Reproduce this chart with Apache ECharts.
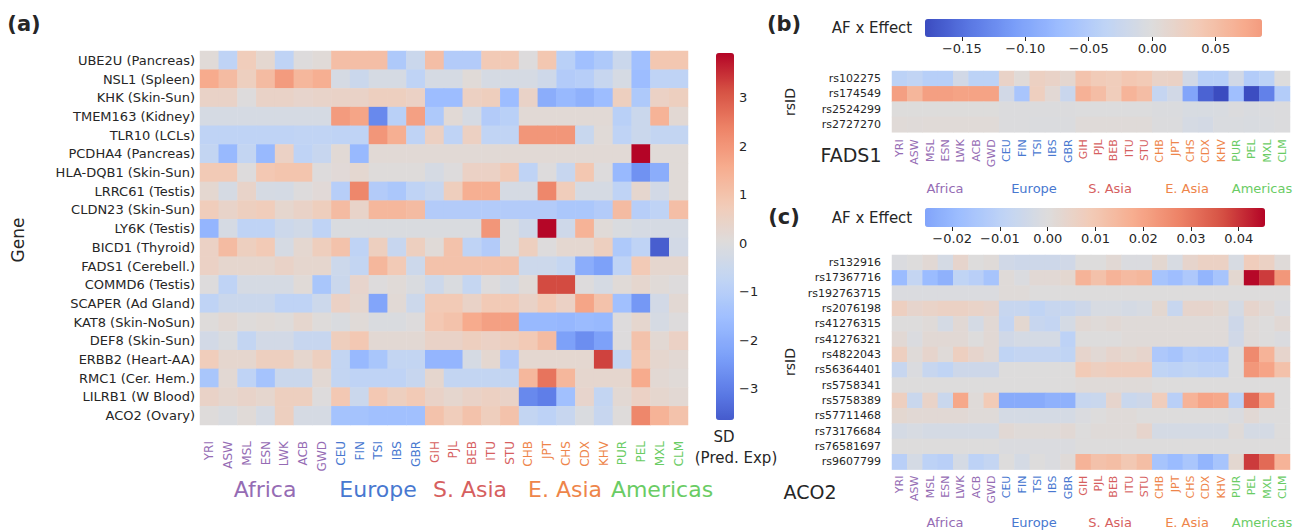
<!DOCTYPE html>
<html><head><meta charset="utf-8">
<script src="https://cdn.jsdelivr.net/npm/echarts@6/dist/echarts.min.js"></script>
<style>html,body{margin:0;padding:0;background:#fff}#c{width:1296px;height:532px}</style>
</head><body><div id="c"></div>
<script>
// ---------------- DATA ----------------
const populations = ["YRI","ASW","MSL","ESN","LWK","ACB","GWD","CEU","FIN","TSI","IBS","GBR","GIH","PJL","BEB","ITU","STU","CHB","JPT","CHS","CDX","KHV","PUR","PEL","MXL","CLM"];
const regionNames = ["Africa","Europe","S. Asia","E. Asia","Americas"];
const regionSizes = [7,5,5,5,4];
const genes = ["UBE2U (Pancreas)","NSL1 (Spleen)","KHK (Skin-Sun)","TMEM163 (Kidney)","TLR10 (LCLs)","PCDHA4 (Pancreas)","HLA-DQB1 (Skin-Sun)","LRRC61 (Testis)","CLDN23 (Skin-Sun)","LY6K (Testis)","BICD1 (Thyroid)","FADS1 (Cerebell.)","COMMD6 (Testis)","SCAPER (Ad Gland)","KAT8 (Skin-NoSun)","DEF8 (Skin-Sun)","ERBB2 (Heart-AA)","RMC1 (Cer. Hem.)","LILRB1 (W Blood)","ACO2 (Ovary)"];
const geneSD = [
 [0.1,-0.8,0.7,0.25,-0.8,0,0.1,1.1,1.1,1.1,-1.2,-0.5,1.1,-1.1,-1.1,0.8,0.8,0,0.9,-0.95,-1.5,-1.2,-0.5,-1.5,0.9,0.9],
 [1.6,1.2,0.6,1.2,1.9,1.3,1.5,-0.2,-0.5,-0.2,-0.2,-0.8,-0.2,-0.2,0.1,-0.2,-0.2,-0.2,-0.4,-1.1,-1.0,-0.6,-0.2,-1.6,-0.8,-0.8],
 [0.45,0.45,0,0.45,0.45,0.35,0.4,0.45,0.45,0.6,0.6,0.5,-1.6,-1.6,0.55,0.65,-1.6,0.45,-2.0,-1.7,-1.9,-1.6,0.6,-1.2,0.5,0.6],
 [-0.2,-0.2,-0.2,-0.2,-0.2,-0.2,-0.2,1.9,1.7,-2.8,-0.95,1.8,-1.2,0.15,-0.2,-1.1,-0.95,0.15,0.15,0.15,0.15,0.15,-0.95,-0.5,1.4,0.2],
 [-0.8,-0.8,-0.8,-0.8,-0.8,-0.75,-0.75,-0.8,-0.8,2.0,1.5,-0.8,0.55,-0.8,0.55,-0.75,-0.75,2.0,2.0,2.0,-0.55,0.1,-0.8,-0.5,-0.7,-0.7],
 [-0.7,-1.7,-0.7,-1.7,0.5,-0.8,-0.6,0.15,-1.7,0.15,0.15,0.15,0.15,0.15,0.15,0.15,0.15,0.15,0.15,0.15,0.15,0.15,0.15,3.92,0.1,0.1],
 [0.8,0.8,0,0.85,0.95,0.95,0,0.12,0.25,0.05,0.05,0.05,-0.2,0,0.5,0.5,0.8,-0.8,0,-0.6,0.9,0,-1.7,-2.6,-2.0,0.1],
 [0.25,-0.2,0.4,-0.2,-0.25,0,0.12,-1.0,2.3,-1.1,-1.25,-0.8,-0.6,0.65,1.5,1.5,-0.2,-0.2,2.3,0.7,-0.2,-0.2,-0.8,0.3,-0.3,0.1],
 [0.7,0.4,0.6,0.7,0.3,0.45,0.65,1.2,0.4,1.3,1.3,1.2,-1.1,-1.1,-1.1,-1.1,-1.1,-1.1,-1.1,-1.25,-1.25,-1.1,1.2,-1.0,-0.8,1.1],
 [-1.8,-0.2,-0.8,-0.8,-0.45,-0.35,-0.8,-0.1,-0.1,-0.1,-0.1,-0.1,-0.1,-0.1,-0.1,2.0,-0.1,-0.4,3.9,-0.4,1.4,0.1,-0.1,-0.2,-0.2,-0.2],
 [0.5,1.2,0.6,0.8,-0.2,0.25,0.65,1.0,-0.8,0.6,-0.6,0.6,0.1,1.0,-0.8,-1.1,-0.1,0.6,0,0.25,0.25,0.6,-1.2,-0.8,-3.6,-0.3],
 [0.5,0.3,0.3,0.3,0.45,0.3,0.3,-0.45,-0.7,1.3,0.8,-0.45,1.0,1.0,1.0,1.0,1.0,-0.45,-0.45,-0.65,-2.0,-2.3,-0.8,0.8,0.3,0.3],
 [0,-0.8,-0.2,-0.2,-0.2,0.1,-1.3,-0.5,0.35,0,0.1,-0.1,-0.45,-0.1,-0.65,0,-0.2,0.1,3.2,3.2,0,-0.2,0.1,0.3,0.1,0],
 [-0.8,-0.5,-0.5,-0.5,-0.8,-0.8,-0.45,0.5,0.3,-2.2,0.15,-0.45,0.8,0.8,0.45,0.8,0.8,0.45,0.8,0.5,1.7,1.0,-1.5,-2.5,-0.3,0.2],
 [0.05,0.2,0.05,0.1,0.05,0.3,0.05,-0.1,0.1,-0.1,-0.1,0,0.85,1.0,1.6,1.8,1.8,-1.7,-1.7,-1.75,-1.65,-1.7,0,0.3,-0.2,0],
 [-0.3,-0.1,-0.7,-0.3,-0.3,-0.6,-0.6,0.65,0.85,0.2,0.2,0.2,0.45,0.45,0.6,0.5,0.6,0.8,1.2,-2.3,-2.7,-2.3,0,1.0,0.2,0.5],
 [0.7,0.3,0.3,0.6,0.6,0.3,0.6,-0.7,-1.7,-1.3,-0.7,-0.7,-1.8,-1.8,-0.2,0.25,-1.1,0.25,0.25,0.25,0.25,3.3,-0.7,0.9,0.3,0.2],
 [-1.3,0.2,-0.8,-1.4,-0.5,-0.5,0.2,-0.7,-0.8,-0.8,-0.8,-0.6,0.3,-0.7,-0.7,-0.7,-0.7,1.3,2.6,1.3,0.3,0.3,0.3,1.6,0.2,0.1],
 [0.45,0.3,0.4,0.3,0.6,0.6,0,0.85,-0.5,0.85,0.6,0.8,0.45,0.3,0.45,0.55,0.45,-2.8,-3.0,-1.5,0.35,-0.7,0.2,0.5,0.3,0.2],
 [0.05,-0.1,0.1,-0.2,0.6,-0.2,-0.2,-1.4,-1.4,-1.5,-1.5,-1.5,1.0,0.7,1.0,0.65,1.0,-0.7,-0.85,-0.6,-0.1,-0.6,0.05,2.3,1.4,1.0]
];
const sdRange = [-3.65, 3.92];
const sdTicks = [-3,-2,-1,0,1,2,3];

const fadsSnps = ["rs102275","rs174549","rs2524299","rs2727270"];
const fadsAF = [
 [-0.04,-0.035,-0.045,-0.045,-0.015,-0.04,-0.04,0.02,0.005,0.025,0.02,0.012,0.045,0.035,0.032,0.04,0.037,0.02,0.022,-0.015,-0.045,-0.045,-0.015,-0.05,-0.04,0],
 [0.083,0.06,0.083,0.083,0.08,0.08,0.08,-0.015,-0.06,0.028,0.008,-0.025,0.065,0.052,0.032,0.062,0.052,-0.03,-0.015,-0.1,-0.16,-0.179,-0.07,-0.178,-0.135,-0.05],
 [0.001,0.001,0.001,0.001,0.001,0.001,0.001,-0.002,-0.002,-0.002,-0.002,-0.002,-0.001,-0.001,-0.001,-0.001,-0.001,-0.003,-0.003,-0.008,-0.008,-0.006,-0.002,-0.004,-0.003,-0.002],
 [0.005,0.004,0.005,0.005,0.005,0.005,0.005,-0.002,-0.002,-0.003,-0.003,-0.003,0.004,0.004,0.004,0.004,0.004,-0.002,-0.002,-0.01,-0.012,-0.005,-0.004,-0.006,-0.004,-0.002]
];
const fadsRange = [-0.179, 0.0865];
const fadsTicks = [-0.15,-0.10,-0.05,0,0.05];

const acoSnps = ["rs132916","rs17367716","rs192763715","rs2076198","rs41276315","rs41276321","rs4822043","rs56364401","rs5758341","rs5758389","rs57711468","rs73176684","rs76581697","rs9607799"];
const acoAF = [
 [-0.001,0,0.002,-0.003,0.004,0,0.001,-0.004,-0.005,-0.005,-0.005,-0.004,0,0,0.002,-0.001,-0.001,0.003,-0.002,0.004,0.006,0.006,-0.002,0.008,0.006,0.001],
 [-0.019,-0.008,-0.019,-0.022,-0.009,-0.011,-0.016,0.001,-0.001,0.002,0.002,0.003,0.016,0.012,0.016,0.014,0.015,-0.016,-0.018,-0.014,-0.021,-0.016,0.003,0.045,0.039,0.023],
 [-0.001,-0.001,-0.001,-0.001,-0.001,-0.001,-0.001,0.001,0.001,0,0,0,0,0,0,0,0,0,0,0,0,0,0,0,0,0],
 [0.007,0.004,0.005,0.006,0.006,0.005,0.004,-0.007,-0.007,-0.009,-0.007,-0.007,-0.005,-0.002,-0.002,-0.003,-0.002,0.003,-0.007,0.004,0.004,0.003,-0.003,0.004,0.002,-0.001],
 [0,0,0.001,-0.003,0.002,-0.003,0.002,-0.008,0.003,-0.007,-0.008,-0.003,0.002,0.001,0.002,0.001,0.001,0.001,0.001,0.001,0.001,0.001,-0.005,0.001,0,0.002],
 [0.002,-0.001,0.002,0.002,0.002,0,0.002,-0.004,-0.003,-0.003,-0.003,-0.01,0,0,0,0.001,0.001,0.001,0.001,0.001,0.001,0.001,-0.004,0.001,0,-0.001],
 [0.007,0.001,0.004,0.001,0.007,0.004,0.002,-0.009,-0.008,-0.008,-0.008,-0.009,0.004,0.002,0.004,0.003,0.004,-0.014,-0.016,-0.012,-0.013,-0.013,0,0.026,0.016,0.004],
 [-0.007,-0.001,-0.007,-0.009,-0.005,-0.005,-0.005,0,0,0,0,0,0.009,0.007,0.008,0.008,0.008,-0.009,-0.01,-0.009,-0.01,-0.01,0,0.023,0.02,0.012],
 [0,0,0,0,0,0,0,0,0,0,0,0,0.001,0.001,0.001,0.001,0.001,0,0,0,0,0,0,0,0,0],
 [0.007,-0.006,0.005,-0.006,0.019,0.001,0.009,-0.024,-0.024,-0.024,-0.022,-0.022,-0.007,-0.006,0.004,-0.006,-0.005,0.008,-0.011,0.016,0.02,0.019,-0.01,0.032,0.02,0],
 [0.003,0.002,0.002,0.002,0.002,0.001,0.001,-0.003,-0.003,-0.003,-0.003,-0.003,-0.001,0,0.001,0.001,0,0,0,0,0,0,-0.001,0.002,0,0],
 [-0.003,-0.002,-0.003,-0.003,-0.003,-0.003,-0.003,0.002,0.001,0.001,0.001,0.002,0,0.001,0.001,0.001,0.004,-0.003,-0.003,-0.003,-0.003,-0.003,0.001,-0.003,-0.003,0],
 [0,0,0,0,0,0,0,-0.001,-0.001,-0.001,-0.001,-0.001,0,0,0,0,0,0,0,0,0,0,0,0,0,0],
 [-0.011,-0.003,-0.01,-0.011,-0.003,-0.01,-0.008,0,-0.003,0,-0.001,0.001,0.016,0.012,0.013,0.01,0.013,-0.016,-0.019,-0.015,-0.021,-0.016,0.003,0.039,0.032,0.016]
];
const acoRange = [-0.0257, 0.0455];
const acoTicks = [-0.02,-0.01,0,0.01,0.02,0.03,0.04];

// ---------------- STYLE ----------------
const regionColors = ["#956cb4","#4878d0","#d65f5f","#ee854a","#6acc64"];
const TXT = "#262626";
const FONT = "DejaVu Sans";
const coolwarm = [[0,'#3b4cc0'],[0.1,'#5a78e4'],[0.2,'#7b9ff9'],[0.3,'#9ebeff'],[0.4,'#c0d4f5'],[0.5,'#dddcdc'],[0.6,'#f2cbb7'],[0.7,'#f7ac8e'],[0.8,'#ee8468'],[0.9,'#d65244'],[1,'#b40426']];
function hex2rgb(h){return [1,3,5].map(i=>parseInt(h.substr(i,2),16));}
function cw(t){
  t=Math.max(0,Math.min(1,t));
  for(let i=1;i<coolwarm.length;i++){
    if(t<=coolwarm[i][0]){
      const [t0,c0]=coolwarm[i-1],[t1,c1]=coolwarm[i];
      const f=(t-t0)/(t1-t0),a=hex2rgb(c0),b=hex2rgb(c1);
      return 'rgb('+a.map((x,k)=>Math.round(x+(b[k]-x)*f)).join(',')+')';
    }
  }
  return coolwarm[coolwarm.length-1][1];
}
function centeredPalette(r){
  const vr=Math.max(-r[0],r[1]),N=80,out=[];
  for(let i=0;i<=N;i++){const v=r[0]+(r[1]-r[0])*i/N;out.push(cw(0.5+v/(2*vr)));}
  return out;
}
const popColors=[];regionSizes.forEach((n,i)=>{for(let k=0;k<n;k++)popColors.push(regionColors[i]);});
function toCells(m){const d=[];m.forEach((row,y)=>row.forEach((v,x)=>d.push([x,y,v])));return d;}
const minus=s=>String(s).replace('-','\u2212');

// layout
const G = {
  a:{left:200,top:51,width:488,height:374},
  b:{left:892,top:71,width:398,height:61.3},
  c:{left:892,top:255,width:398,height:214.6},
  cba:{left:716,top:53,width:18,height:367},
  cbb:{left:925,top:19,width:337,height:18},
  cbc:{left:925,top:208,width:340,height:19}
};

function catX(gi,fs,margin){return {type:'category',gridIndex:gi,data:populations,position:'bottom',
  axisLine:{show:false},axisTick:{show:false},splitLine:{show:false},
  axisLabel:{rotate:90,fontSize:fs,fontFamily:FONT,margin:margin,interval:0,color:(v,i)=>popColors[populations.indexOf(v)]}};}
function catY(gi,data,fs,margin){return {type:'category',gridIndex:gi,data:data,inverse:true,
  axisLine:{show:false},axisTick:{show:false},splitLine:{show:false},
  axisLabel:{fontSize:fs,fontFamily:FONT,margin:margin,interval:0,color:TXT}};}
function cbAxis(gi,r,ticks,pos,dec){return {type:'value',gridIndex:gi,min:r[0],max:r[1],position:pos,
  axisLine:{show:false},splitLine:{show:false},
  axisTick:{show:true,length:4,inside:false,customValues:ticks,lineStyle:{color:TXT,width:1}},
  axisLabel:{show:true,customValues:ticks,fontSize:13,fontFamily:FONT,color:TXT,margin:5,
    formatter:v=>minus(dec?Number(v).toFixed(dec):Math.round(v))}};}
function hidden(gi,type){return {type:'value',gridIndex:gi,show:false,min:0,max:1};}

const graphics=[];
function txt(x,y,s,o){graphics.push(Object.assign({type:'text',x:x,y:y,style:Object.assign({text:s,fill:TXT,font:'13px '+FONT,textAlign:'center',textVerticalAlign:'middle'},o||{})}, (o&&o._r)?{rotation:o._r}:{}));}
txt(24,24,'(a)',{font:'bold 21px '+FONT});
txt(784,24,'(b)',{font:'bold 21px '+FONT});
txt(784,217,'(c)',{font:'bold 21px '+FONT});
txt(18,240,'Gene',{font:'17px '+FONT,_r:Math.PI/2});
txt(790,102,'rsID',{font:'14px '+FONT,_r:Math.PI/2});
txt(790,362,'rsID',{font:'14px '+FONT,_r:Math.PI/2});
txt(872,28,'AF x Effect',{font:'15px '+FONT});
txt(872,218,'AF x Effect',{font:'15px '+FONT});
txt(851,155,'FADS1',{font:'19px '+FONT});
txt(810,492,'ACO2',{font:'19px '+FONT});
txt(724,437,'SD',{font:'15px '+FONT});
txt(736,458,'(Pred. Exp)',{font:'15px '+FONT});
const regA=[265,378,470,565,662], regB=[945,1034,1110,1187,1262];
regionNames.forEach((n,i)=>{
  txt(regA[i],489,n,{font:'22px '+FONT,fill:regionColors[i]});
  txt(regB[i],188,n,{font:'13px '+FONT,fill:regionColors[i]});
  txt(regB[i],522,n,{font:'13px '+FONT,fill:regionColors[i]});
});
graphics.forEach(g=>{delete g.style._r;});

const option={
  animation:false,
  backgroundColor:'#fff',
  grid:[G.a,G.b,G.c,G.cba,G.cbb,G.cbc],
  xAxis:[catX(0,12,16),catX(1,11,7),catX(2,11,6),hidden(3),cbAxis(4,fadsRange,fadsTicks,'bottom',2),cbAxis(5,acoRange,acoTicks,'bottom',2)],
  yAxis:[catY(0,genes,13,5),catY(1,fadsSnps,11,11),catY(2,acoSnps,11,11),cbAxis(3,sdRange,sdTicks,'right',0),hidden(4),hidden(5)],
  visualMap:[
    {type:'continuous',seriesIndex:0,dimension:2,min:sdRange[0],max:sdRange[1],calculable:false,orient:'vertical',
     left:G.cba.left,top:G.cba.top,itemWidth:G.cba.width,itemHeight:G.cba.height,padding:0,text:null,hoverLink:false,inRange:{color:centeredPalette(sdRange)}},
    {type:'continuous',seriesIndex:1,dimension:2,min:fadsRange[0],max:fadsRange[1],calculable:false,orient:'horizontal',
     left:G.cbb.left,top:G.cbb.top,itemWidth:G.cbb.height,itemHeight:G.cbb.width,padding:0,text:null,hoverLink:false,inRange:{color:centeredPalette(fadsRange)}},
    {type:'continuous',seriesIndex:2,dimension:2,min:acoRange[0],max:acoRange[1],calculable:false,orient:'horizontal',
     left:G.cbc.left,top:G.cbc.top,itemWidth:G.cbc.height,itemHeight:G.cbc.width,padding:0,text:null,hoverLink:false,inRange:{color:centeredPalette(acoRange)}}
  ],
  series:[
    {type:'heatmap',xAxisIndex:0,yAxisIndex:0,data:toCells(geneSD),emphasis:{disabled:true},itemStyle:{borderWidth:0}},
    {type:'heatmap',xAxisIndex:1,yAxisIndex:1,data:toCells(fadsAF),emphasis:{disabled:true},itemStyle:{borderWidth:0}},
    {type:'heatmap',xAxisIndex:2,yAxisIndex:2,data:toCells(acoAF),emphasis:{disabled:true},itemStyle:{borderWidth:0}}
  ],
  graphic:graphics
};
const chart=echarts.init(document.getElementById('c'),null,{renderer:'svg'});
chart.setOption(option);
</script></body></html>
